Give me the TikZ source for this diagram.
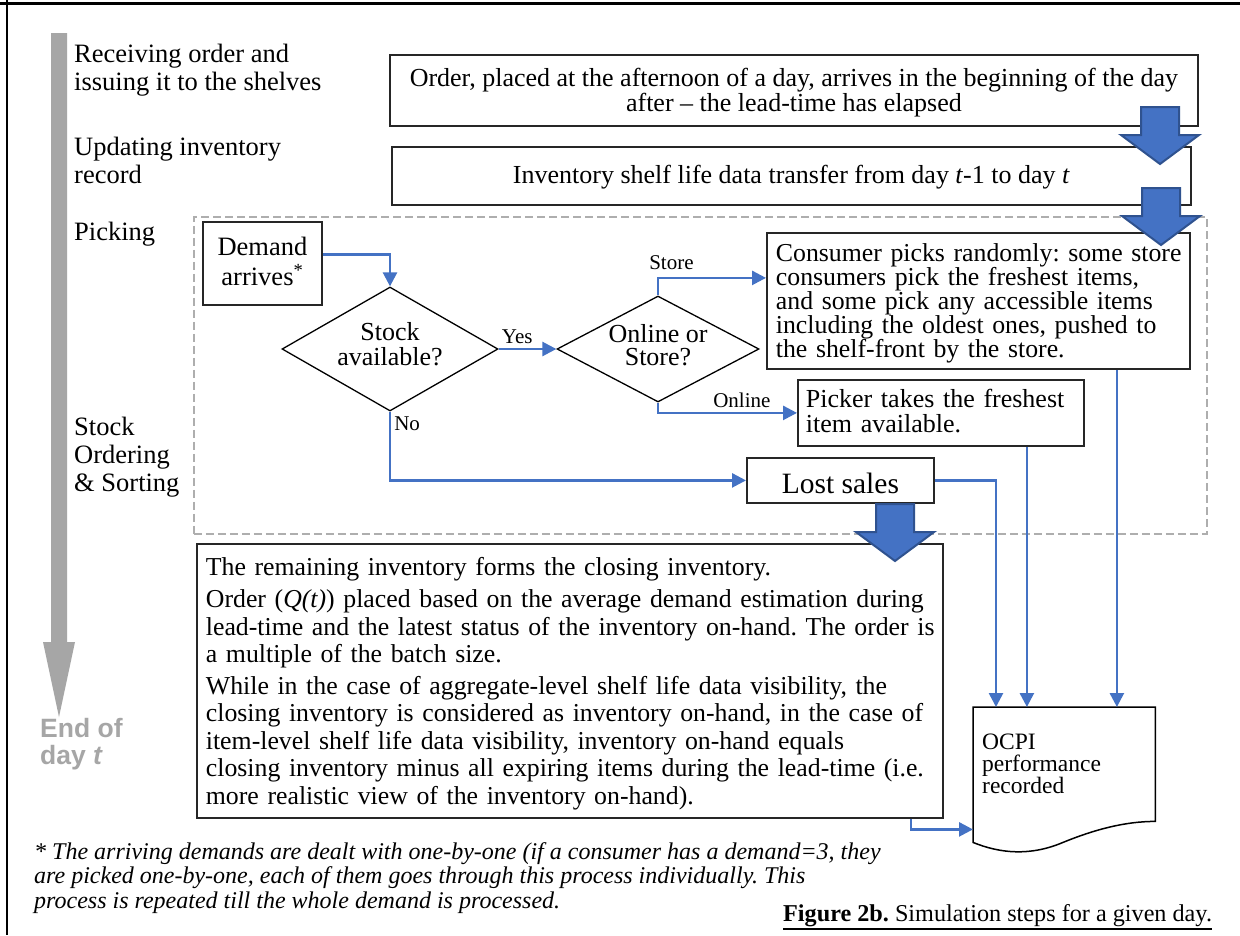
\documentclass[tikz,border=0pt]{standalone}
\usepackage{fontspec}
\setmainfont{Liberation Serif}
\newfontfamily\sansbf{Liberation Sans}
\usetikzlibrary{shapes.geometric,arrows.meta,calc}
\definecolor{flowblue}{HTML}{4472C4}
\definecolor{arrowedge}{HTML}{2F528F}
\definecolor{bargray}{HTML}{A6A6A6}
\definecolor{zonegray}{HTML}{AEAEAE}
\newcommand\fsz[2]{\fontsize{#1}{#2}\selectfont}
\frenchspacing
\tikzset{
  box/.style={draw=black!85, line width=1.8pt, fill=white, anchor=north west, inner xsep=9pt, inner ysep=1pt},
  decision/.style={diamond, draw=black, line width=1.3pt, fill=white, inner sep=0pt, align=center},
  flow/.style={draw=flowblue, line width=2.6pt, -{Triangle[length=14pt,width=14pt]}},
  lbl/.style={anchor=north west, inner sep=0pt, align=left, font=\fsz{26.5}{28}},
  small/.style={anchor=base west, inner sep=0pt, font=\fsz{21}{22}},
  zone/.style={draw=zonegray, line width=1.5pt, dash pattern=on 8pt off 4pt, anchor=north west, inner sep=0pt},
  bigarrowstyle/.style={fill=flowblue, draw=arrowedge, line width=2pt, line join=miter},
  bigarrow/.pic={\filldraw[bigarrowstyle] (-19,0) -- (19,0) -- (19,28) -- (39,28) -- (0,57) -- (-39,28) -- (-19,28) -- cycle;}
}
\begin{document}
\frenchspacing
\begin{tikzpicture}[x=1pt,y=-1pt]
\useasboundingbox (0,0) rectangle (1240,935);
\fill[white] (0,0) rectangle (1240,935);
% frame
\draw[line width=3pt] (0,3) -- (1240,3);
\draw[line width=2pt] (7,0) -- (7,935);
% time arrow
\fill[bargray] (51,33) -- (67,33) -- (67,642) -- (75,642) -- (59,717) -- (43,642) -- (51,642) -- cycle;
\node[lbl, font=\sansbf\bfseries\fsz{26.5}{27}, text=bargray] (eod) at (40,717) {\rule{0pt}{20pt}End of\\day \textit{t}};
% step labels
\node[lbl] (lab1) at (74,42) {\rule{0pt}{20pt}Receiving order and\\issuing it to the shelves};
\node[lbl] (lab2) at (74,135) {\rule{0pt}{20pt}Updating inventory\\record};
\node[lbl, anchor=base west] (lab3) at (74,240) {Picking};
\node[lbl] (lab4) at (74,415) {\rule{0pt}{20pt}Stock\\Ordering\\\& Sorting};
% picking zone
\node[zone, minimum width=1013pt, minimum height=317pt] (zone) at (193,216) {};
% boxes
\node[box, minimum width=808pt, minimum height=71pt, align=center, font=\fsz{26}{25}] (order) at (389,54)
  {\rule{0pt}{21.75pt}Order, placed at the afternoon of a day, arrives in the beginning of the day\\after -- the lead-time has elapsed};
\node[box, minimum width=799pt, minimum height=58pt, align=center, font=\fsz{26}{26}] (inv) at (391,146)
  {\rule{0pt}{21.7pt}Inventory shelf life data transfer from day \textit{t}-1 to day \textit{t}};
\node[box, minimum width=119pt, minimum height=83pt, inner xsep=3pt, align=center, font=\fsz{26.5}{30.5}] (demand) at (202,221)
  {Demand\\arrives\textsuperscript{*}\rule[-4.6pt]{0pt}{0pt}};
\node[decision, minimum width=216pt, minimum height=124pt, aspect=1.75, font=\fsz{26}{25}] (stock) at (390,349)
  {Stock\\available?\rule[-11pt]{0pt}{0pt}};
\node[decision, minimum width=202pt, minimum height=106pt, aspect=1.9, font=\fsz{26}{23.5}] (online) at (658,349)
  {Online or\\Store?\rule[-8.3pt]{0pt}{0pt}};
\node[box, minimum width=423pt, minimum height=136pt, text width=405pt, align=left, font=\fsz{25.8}{24}] (consumer) at (766,232)
  {\rule{0pt}{23.75pt}\mbox{Consumer picks randomly: some store}\\\mbox{consumers pick the freshest items,}\\\mbox{and some pick any accessible items}\\\mbox{including the oldest ones, pushed to}\\\mbox{the shelf-front by the store.}};
\node[box, minimum width=286pt, minimum height=66pt, inner xsep=8pt, text width=270pt, align=left, font=\fsz{26}{25}] (picker) at (797,379)
  {\mbox{Picker takes the freshest}\\\mbox{item available.}\rule[-5pt]{0pt}{0pt}};
\node[box, minimum width=187pt, minimum height=45pt, inner xsep=3pt, align=center, font=\fsz{29.5}{30}] (lost) at (746,457)
  {\rule{0pt}{27pt}Lost sales};
\node[box, minimum width=746pt, minimum height=274pt, text width=728pt, align=left, font=\fsz{25.8}{27.5}] (closing) at (196,543)
  {\rule{0pt}{24.25pt}\mbox{The remaining inventory forms the closing inventory.}\\[4.5pt]
   \mbox{Order (\textit{Q(t)}) placed based on the average demand estimation during}\\
   \mbox{lead-time and the latest status of the inventory on-hand. The order is}\\
   \mbox{a multiple of the batch size.}\\[4pt]
   \mbox{While in the case of aggregate-level shelf life data visibility, the}\\
   \mbox{closing inventory is considered as inventory on-hand, in the case of}\\
   \mbox{item-level shelf life data visibility, inventory on-hand equals}\\
   \mbox{closing inventory minus all expiring items during the lead-time (i.e.}\\
   \mbox{more realistic view of the inventory on-hand).}};
% OCPI document
\node[anchor=north west, inner xsep=9pt, inner ysep=0pt, text width=164pt, minimum height=114pt, align=left, font=\fsz{23.5}{22}] (ocpi) at (973,707)
  {\mbox{OCPI}\\\mbox{performance}\\\mbox{recorded}};
\draw[line width=1.5pt] (ocpi.north east) -- (ocpi.north west) -- ($(ocpi.south west)+(0,21)$)
  .. controls ($(ocpi.south west)+(27,32)$) and ($(ocpi.south west)+(57,35)$) .. ($(ocpi.south west)+(90,21)$)
  .. controls ($(ocpi.south west)+(122,8)$) and ($(ocpi.south west)+(152,0)$) .. (ocpi.south east) -- cycle;
% connectors
\draw[flow] ([yshift=9pt]demand.east) -| (stock.north);
\draw[flow] (stock.east) -- node[small, pos=0, xshift=2pt, yshift=6pt] {Yes} (online.west);
\draw[flow] (stock.south) |- node[small, pos=0, xshift=3pt, yshift=-19pt] {No} (lost.west);
\draw[flow] (online.north) |- node[small, pos=0.5, xshift=-10pt, yshift=8pt] {Store} ([yshift=23pt]consumer.west);
\draw[flow] (online.south) |- node[small, pos=0.5, xshift=54pt, yshift=5pt] {Online} (picker.west);
\draw[flow] (lost.east) -| ([xshift=23pt]ocpi.north west);
\draw[flow] ([xshift=86pt]picker.south) -- ([xshift=86pt]picker.south |- ocpi.north);
\draw[flow] ([xshift=138.5pt]consumer.south) -- ([xshift=138.5pt]consumer.south |- ocpi.north);
\draw[flow] ([xshift=341pt]closing.south) |- ([yshift=-8pt]ocpi.south west);
% block arrows
\pic at (1160,107) {bigarrow};
\pic at (1161,188) {bigarrow};
\pic at (895,504) {bigarrow};
% footnote and caption
\node[lbl, font=\itshape\fsz{24}{24.5}] (note) at (34,839)
  {\rule{0pt}{20pt}* The arriving demands are dealt with one-by-one (if a consumer has a demand=3, they\\are picked one-by-one, each of them goes through this process individually. This\\process is repeated till the whole demand is processed.};
\node[anchor=base west, inner sep=0pt, font=\fsz{24.2}{26}] (caption) at (783,921) {\textbf{Figure 2b.} Simulation steps for a given day.};
\draw[line width=2.5pt] ([yshift=-8pt]caption.base west) -- ([yshift=-8pt]caption.base east);
\end{tikzpicture}
\end{document}
